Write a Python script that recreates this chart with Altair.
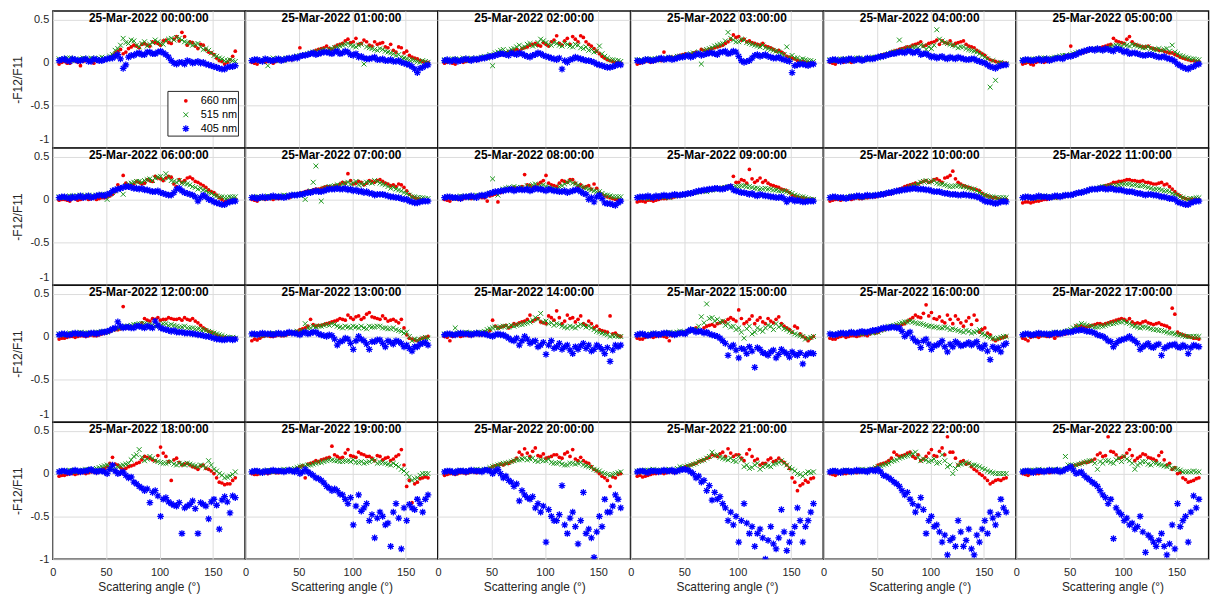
import altair as alt
import pandas as pd

ANGLES = [6, 11, 16, 21, 26, 31, 36, 41, 46, 51, 56, 61, 66, 71, 76, 81, 86, 91, 96, 101,
          106, 111, 116, 121, 126, 131, 136, 141, 146, 151, 156, 161, 166, 171]
ANGLES_B = [8.5, 13.5, 18.5, 23.5, 28.5, 33.5, 38.5, 43.5, 48.5, 53.5, 58.5, 63.5, 68.5,
            73.5, 78.5, 83.5, 88.5, 93.5, 98.5, 103.5, 108.5, 113.5, 118.5, 123.5, 128.5,
            133.5, 138.5, 143.5, 148.5, 153.5, 158.5, 163.5, 168.5]

TITLES = ["25-Mar-2022 %02d:00:00" % h for h in range(24)]
LEGEND_LABELS = ["660 nm", "515 nm", "405 nm"]
X_TICKS = [0, 50, 100, 150]
Y_TICKS = [-1, -0.5, 0, 0.5]

# ---------- samples at ANGLES ----------
R00 = [-0.02,0.01,-0.01,0.02,-0.04,0.02,0.01,0.03,0.02,0.04, 0.08,0.13,0.10,0.16,0.20,0.17,0.22,0.19,0.23,0.20, 0.26,0.22,0.30,0.35,0.20,0.23,0.16,0.20,0.12,0.09, 0.02,-0.02,0.03,0.13]
G00 = [0.04,0.03,0.05,0.02,0.04,0.03,0.05,0.03,0.06,0.04, 0.09,0.16,0.28,0.22,0.25,0.18,0.24,0.21,0.26,0.22, 0.25,0.28,0.29,0.26,0.23,0.20,0.22,0.15,0.14,0.08, 0.05,0.02,0.03,0.01]
B00 = [0.02,0.04,0.01,0.03,0.02,0.04,0.01,0.03,0.02,0.04, 0.05,0.09,-0.07,0.06,0.08,0.11,0.09,0.12,0.10,0.13, 0.09,0.02,-0.02,0.00,0.02,-0.01,0.01,0.00,-0.03,-0.05, -0.07,-0.08,-0.05,-0.04]
R01 = [0.00,-0.02,0.02,0.01,-0.01,0.03,0.02,0.04,0.05,0.17, 0.08,0.10,0.14,0.16,0.19,0.15,0.20,0.22,0.27,0.24, 0.21,0.26,0.20,0.24,0.22,0.18,0.21,0.12,0.17,0.13, 0.06,0.04,0.01,0.00]
G01 = [0.02,0.03,0.01,-0.04,0.05,0.04,0.02,0.05,0.06,0.08, 0.09,0.11,0.12,0.14,0.13,0.16,0.18,0.20,0.22,0.19, 0.20,-0.02,0.17,0.15,0.16,0.13,0.11,0.08,0.06,0.04, 0.03,0.01,0.02,0.00]
B01 = [0.02,0.03,0.01,0.03,0.02,0.04,0.03,0.05,0.06,0.07, 0.08,0.10,0.09,0.11,0.12,0.10,0.13,0.11,0.12,0.08, 0.06,0.05,0.04,0.06,0.03,0.02,0.03,0.01,0.00,-0.02, -0.05,-0.12,-0.06,-0.03]
R02 = [-0.01,0.01,-0.02,0.02,0.01,0.03,0.02,0.04,0.05,0.07, 0.10,0.09,0.12,0.14,0.13,0.17,0.20,0.22,0.19,0.21, 0.24,0.31,0.20,0.28,0.30,0.24,0.29,0.21,0.16,0.10, 0.05,0.02,0.00,-0.01]
G02 = [0.03,0.02,0.04,0.03,0.02,0.05,0.04,0.06,0.05,-0.04, 0.12,0.15,0.13,0.16,0.20,0.18,0.22,0.20,0.27,0.23, 0.20,0.22,0.19,0.21,0.18,0.20,0.16,0.14,0.12,0.19, 0.07,0.03,0.02,0.01]
B02 = [0.02,0.01,0.03,0.02,0.04,0.02,0.03,0.05,0.06,0.07, 0.09,0.10,0.08,0.10,0.11,0.08,0.06,0.09,0.10,0.07, 0.05,0.03,-0.08,0.00,0.04,0.05,0.03,0.02,0.00,-0.03, -0.05,-0.06,-0.04,-0.03]
R03 = [-0.02,0.00,0.02,0.01,0.03,0.12,0.05,0.04,0.08,0.10, 0.09,0.12,0.15,0.13,0.16,0.18,0.20,0.24,0.32,0.30, 0.27,0.25,0.22,0.20,0.19,0.17,0.13,0.12,0.07,0.05, 0.02,0.01,0.00,-0.01]
G03 = [0.03,0.02,0.04,0.03,0.05,0.04,0.06,0.05,0.07,0.08, 0.10,0.09,-0.02,0.15,0.17,0.20,0.22,0.35,0.26,0.24, 0.26,0.22,0.20,0.18,0.17,0.15,0.13,0.10,0.18,0.08, 0.05,0.04,0.02,0.01]
B03 = [0.02,0.01,0.03,0.02,0.04,0.03,0.05,0.04,0.06,0.07, 0.06,0.09,0.08,0.10,0.11,0.09,0.12,0.10,0.13,0.07, 0.00,0.02,0.08,0.07,0.09,0.06,0.05,0.04,0.02,-0.12, -0.03,-0.02,-0.04,-0.02]
R04 = [0.00,-0.02,0.01,0.02,0.00,0.03,0.02,0.04,0.05,0.06, 0.09,0.10,0.13,0.15,0.17,0.18,0.21,0.24,0.20,0.23, 0.26,0.25,0.22,0.20,0.23,0.25,0.19,0.17,0.12,0.08, 0.03,0.01,0.00,-0.01]
G04 = [0.03,0.02,0.04,0.03,0.02,0.05,0.04,0.03,0.06,0.05, 0.08,0.10,0.12,0.26,0.14,0.16,0.18,0.20,0.15,0.16, 0.38,0.25,0.22,0.20,0.17,0.18,0.15,0.13,0.10,0.06, -0.29,-0.21,0.00,-0.02]
B04 = [0.02,0.03,0.01,0.02,0.04,0.03,0.02,0.05,0.04,0.06, 0.07,0.09,0.10,0.12,0.11,0.13,0.12,0.09,0.10,0.06, 0.05,0.07,0.04,0.05,0.06,0.04,0.03,0.04,0.01,-0.01, -0.05,-0.07,-0.04,-0.03]
R05 = [-0.02,0.00,-0.03,0.01,0.00,0.02,0.04,0.05,0.07,0.19, 0.10,0.11,0.13,0.15,0.16,0.18,0.20,0.28,0.24,0.22, 0.30,0.21,0.19,0.18,0.17,0.15,0.14,0.12,0.11,0.08, 0.05,0.03,0.02,0.01]
G05 = [0.03,0.02,0.04,0.03,0.05,0.04,0.06,0.07,0.08,0.09, 0.11,0.12,0.14,0.15,0.16,0.15,0.17,0.19,0.20,0.21, 0.19,0.20,0.18,0.17,0.16,0.15,0.14,0.16,0.20,0.10, 0.07,0.05,0.04,0.03]
B05 = [0.02,0.03,0.02,0.04,0.03,0.02,0.04,0.05,0.06,0.07, 0.09,0.12,0.14,0.15,0.16,0.14,0.15,0.13,0.15,0.12, 0.10,0.11,0.09,0.08,0.09,0.07,0.06,0.05,0.03,-0.02, -0.06,-0.08,-0.05,-0.02]
R06 = [-0.01,0.00,-0.02,0.01,0.00,0.02,0.01,0.00,0.02,0.03, 0.06,0.17,0.28,0.15,0.18,0.20,0.19,0.22,0.27,0.24, 0.25,0.26,0.15,0.20,0.25,0.24,0.20,0.16,0.11,0.08, 0.02,-0.03,-0.01,0.00]
G06 = [0.03,0.02,0.04,0.03,0.05,0.04,0.03,0.05,0.06,0.00, 0.08,0.12,0.06,0.18,0.20,0.21,0.22,0.24,0.25,0.27, 0.30,0.22,0.20,0.19,0.18,0.15,0.12,0.11,0.08,0.05, 0.03,0.02,0.03,0.03]
B06 = [0.02,0.03,0.01,0.02,0.04,0.03,0.02,0.04,0.05,0.06, 0.10,0.12,0.14,0.15,0.13,0.12,0.11,0.10,0.09,0.08, 0.06,0.05,0.12,0.10,0.07,0.05,-0.02,0.05,0.00,-0.03, -0.05,-0.06,-0.03,-0.02]
R07 = [0.00,-0.02,0.01,0.02,0.00,0.01,0.03,0.02,0.05,0.07, 0.09,0.10,0.12,0.13,0.15,0.14,0.16,0.20,0.30,0.18, 0.21,0.17,0.22,0.20,0.23,0.19,0.16,0.15,0.17,0.10, 0.03,0.01,0.00,-0.01]
G07 = [0.02,0.03,0.01,0.04,0.02,0.03,0.05,0.04,0.06,0.05, 0.00,0.10,0.39,-0.02,0.14,0.15,0.17,0.18,0.20,0.19, 0.17,0.18,0.20,0.22,0.19,0.17,0.13,0.12,0.10,0.07, 0.03,0.02,0.02,0.01]
B07 = [0.02,0.01,0.03,0.02,0.04,0.03,0.02,0.04,0.05,0.06, 0.07,0.08,0.10,0.09,0.11,0.12,0.13,0.12,0.11,0.10, 0.09,0.08,0.07,0.05,0.06,0.05,0.03,0.02,0.01,0.00, -0.03,-0.04,-0.02,-0.02]
R08 = [0.00,-0.02,0.01,0.00,0.02,0.01,0.03,0.02,-0.02,0.05, -0.03,0.10,0.12,0.14,0.13,0.29,0.16,0.15,0.20,0.28, 0.17,0.15,0.22,0.20,0.23,0.15,0.14,0.16,0.18,0.08, 0.04,0.02,0.00,-0.01]
G08 = [0.02,0.03,0.01,0.04,0.03,0.02,0.05,0.04,0.06,0.24, 0.05,0.12,0.14,0.15,0.13,0.12,0.15,0.18,0.16,0.15, 0.13,0.12,0.16,0.20,0.19,0.17,0.14,0.12,0.10,0.09, 0.05,0.04,0.03,0.03]
B08 = [0.02,0.03,0.02,0.01,0.03,0.04,0.02,0.05,0.06,0.08, 0.09,0.10,0.11,0.10,0.12,0.11,0.10,0.13,0.12,0.10, 0.11,0.10,0.09,0.08,0.10,0.11,0.07,0.00,-0.03,0.05, -0.04,-0.05,-0.07,-0.02]
R09 = [-0.03,-0.02,-0.01,-0.02,0.00,0.01,0.02,0.03,0.04,0.05, 0.07,0.08,0.09,0.10,0.11,0.12,0.14,0.15,0.27,0.20, 0.22,0.35,0.20,0.25,0.22,0.17,0.15,0.12,0.10,0.05, 0.03,0.02,0.00,0.00]
G09 = [0.02,0.03,0.01,0.02,0.04,0.03,0.02,0.04,0.05,0.06, 0.07,0.08,0.10,0.09,0.11,0.12,0.13,0.15,0.14,0.15, 0.16,0.15,0.13,0.12,0.13,0.12,0.11,0.10,0.09,0.07, 0.04,0.03,0.01,0.00]
B09 = [0.02,0.03,0.04,0.02,0.03,0.05,0.04,0.06,0.05,0.06, 0.07,0.09,0.10,0.11,0.12,0.13,0.12,0.14,0.11,0.09, 0.08,0.06,0.05,0.06,0.04,0.03,0.02,0.03,-0.03,0.00, -0.01,-0.03,-0.02,-0.02]
R10 = [-0.02,0.00,-0.01,0.01,0.00,0.02,0.01,0.02,0.03,0.04, 0.05,0.06,0.09,0.12,0.15,0.17,0.19,0.20,0.22,0.21, 0.24,0.20,0.26,0.33,0.20,0.16,0.14,0.12,0.10,0.05, 0.03,0.02,0.00,0.00]
G10 = [0.02,0.03,0.01,0.02,0.04,0.03,0.02,0.04,0.05,0.05, 0.07,0.08,0.09,0.10,0.12,0.15,0.17,0.20,0.22,0.21, 0.19,0.18,0.16,0.15,0.16,0.15,0.13,0.12,0.08,0.05, 0.03,0.02,0.02,0.02]
B10 = [0.02,0.03,0.02,0.01,0.03,0.04,0.03,0.05,0.04,0.05, 0.06,0.08,0.09,0.10,0.11,0.12,0.13,0.12,0.11,0.10, 0.09,0.08,0.07,0.06,0.05,0.06,0.05,0.04,0.02,-0.02, -0.03,-0.05,-0.03,-0.03]
R11 = [-0.04,-0.03,-0.03,-0.02,0.00,0.01,0.02,0.03,0.04,0.05, 0.07,0.08,0.10,0.12,0.13,0.15,0.17,0.20,0.21,0.22, 0.23,0.22,0.21,0.20,0.19,0.18,0.20,0.18,0.12,0.06, 0.02,0.00,0.00,0.00]
G11 = [0.02,0.03,0.01,0.02,0.04,0.03,0.02,0.04,0.05,0.05, 0.07,0.08,0.10,0.12,0.13,0.15,0.15,0.16,0.17,0.18, 0.18,0.17,0.16,0.15,0.13,0.12,0.11,0.10,0.07,0.05, 0.02,0.00,0.01,0.02]
B11 = [0.02,0.03,0.02,0.04,0.03,0.02,0.04,0.03,0.05,0.05, 0.07,0.08,0.10,0.12,0.12,0.13,0.12,0.12,0.11,0.10, 0.09,0.08,0.07,0.05,0.06,0.05,0.03,0.02,0.01,-0.03, -0.05,-0.06,-0.03,-0.02]
R12 = [-0.03,-0.02,0.00,-0.01,0.01,0.00,0.02,0.01,0.03,0.05, 0.08,0.08,0.35,0.10,0.11,0.12,0.21,0.18,0.20,0.19, 0.20,0.21,0.20,0.19,0.20,0.21,0.16,0.10,0.06,0.04, 0.00,-0.01,-0.02,-0.02]
G12 = [0.03,0.02,0.04,0.03,0.05,0.04,0.03,0.05,0.06,0.05, 0.08,0.10,0.11,0.12,0.14,0.15,0.15,0.14,0.12,0.13, 0.15,0.14,0.12,0.11,0.10,0.10,0.09,0.08,0.06,0.04, 0.02,0.00,-0.01,-0.02]
B12 = [0.02,0.03,0.02,0.04,0.03,0.02,0.04,0.03,0.05,0.06, 0.09,0.17,0.10,0.11,0.10,0.12,0.10,0.11,0.18,0.10, 0.08,0.06,0.05,0.05,0.04,0.03,0.02,0.01,0.00,-0.02, -0.03,-0.04,-0.03,-0.03]
R13 = [-0.05,-0.04,0.00,0.01,0.00,0.02,0.01,0.03,0.05,0.08, 0.10,0.20,0.12,0.13,0.15,0.17,0.19,0.20,0.25,0.20, 0.24,0.22,0.28,0.22,0.20,0.21,0.19,0.18,0.20,0.02, -0.03,-0.05,-0.02,0.00]
G13 = [0.02,0.03,0.01,0.02,0.04,0.03,0.02,0.04,0.05,0.05, 0.15,0.10,0.11,0.12,0.14,0.15,0.12,0.10,0.11,0.12, 0.10,0.10,0.12,0.11,0.12,0.10,0.09,0.08,0.06,0.05, -0.05,-0.04,-0.02,-0.02]
B13 = [0.03,0.02,0.04,0.03,0.02,0.04,0.03,0.05,0.04,0.02, 0.05,0.04,0.05,0.02,0.00,0.01,-0.10,-0.05,-0.03,-0.15, 0.00,-0.05,-0.15,-0.06,-0.04,-0.12,-0.07,-0.05,-0.08,-0.10, -0.17,-0.12,-0.08,-0.10]
R14 = [0.00,-0.05,0.01,0.00,0.02,0.01,0.03,0.02,0.04,0.19, 0.10,0.12,0.10,0.15,0.16,0.18,0.25,0.20,0.17,0.15, 0.22,0.30,0.15,0.25,0.22,0.20,0.15,0.18,0.10,0.08, 0.06,0.24,0.04,0.00]
G14 = [0.03,0.02,0.10,0.03,0.05,0.04,0.03,0.05,0.08,0.10, 0.10,0.12,0.11,0.12,0.14,0.15,0.17,0.22,0.27,0.18, 0.16,0.15,0.12,0.10,0.11,0.12,0.13,0.12,0.08,0.05, 0.03,0.00,0.01,0.00]
B14 = [0.02,0.03,0.02,0.04,0.03,0.02,0.04,0.03,0.02,0.00, 0.03,0.02,-0.02,-0.05,-0.10,0.00,-0.08,-0.05,-0.10,-0.21, -0.05,-0.12,-0.15,-0.10,-0.20,-0.15,-0.08,-0.10,-0.15,-0.12, -0.20,-0.29,-0.10,-0.10]
R15 = [-0.02,-0.03,0.00,-0.01,0.01,0.00,-0.05,0.02,0.03,0.05, 0.08,0.10,0.05,0.12,0.14,0.15,0.18,0.20,0.20,0.31, 0.15,0.20,0.15,0.22,0.15,0.18,0.20,0.15,0.10,0.05, 0.10,0.00,-0.05,0.00]
G15 = [0.02,0.03,0.01,0.04,0.02,0.03,0.05,0.04,0.06,0.05, 0.07,0.08,0.23,0.38,0.22,0.20,0.18,0.15,0.12,0.10, -0.02,0.12,0.05,0.08,0.10,0.12,0.15,0.13,0.08,0.05, 0.02,0.00,-0.02,0.00]
B15 = [0.02,0.03,0.01,0.03,0.02,0.04,0.03,0.02,0.04,0.03, 0.08,0.05,0.06,0.05,0.02,0.00,-0.05,-0.22,-0.10,-0.25, -0.15,-0.12,-0.36,-0.15,-0.20,-0.18,-0.25,-0.15,-0.20,-0.18, -0.22,-0.32,-0.20,-0.20]
R16 = [-0.02,-0.03,0.00,-0.01,0.01,0.00,0.02,0.01,0.05,0.05, 0.08,0.10,0.11,0.12,0.15,0.20,0.25,0.22,0.37,0.28, 0.20,0.18,0.25,0.15,0.20,0.12,0.22,0.25,0.05,0.10, 0.02,-0.05,-0.02,0.00]
G16 = [0.03,0.02,0.04,0.03,0.05,0.04,0.03,0.05,0.04,0.05, 0.08,0.12,0.13,0.15,0.17,0.18,0.16,0.15,0.13,0.12, 0.11,0.10,0.10,0.09,0.07,0.05,0.06,0.05,0.08,0.02, -0.01,-0.03,-0.01,0.00]
B16 = [0.03,0.02,0.04,0.03,0.05,0.04,0.06,0.05,0.07,0.08, 0.10,0.10,0.11,0.10,0.00,0.05,-0.05,-0.13,-0.03,-0.15, -0.10,-0.05,-0.18,-0.12,-0.08,-0.10,-0.07,-0.08,-0.12,-0.10, -0.27,-0.15,-0.18,-0.08]
R17 = [-0.02,-0.05,0.00,-0.01,0.01,0.00,-0.02,0.02,0.03,0.05, 0.12,0.12,0.11,0.13,0.15,0.14,0.16,0.18,0.20,0.20, 0.21,0.15,0.15,0.18,0.15,0.15,0.14,0.12,0.33,0.05, 0.02,0.00,-0.02,-0.03]
G17 = [0.02,0.03,0.01,0.04,0.02,0.03,0.05,0.04,0.06,0.08, 0.12,0.15,0.13,0.12,0.11,0.12,0.14,0.15,0.17,0.18, 0.15,0.12,0.10,0.11,0.09,0.08,0.07,0.05,0.04,0.02, 0.01,0.00,0.00,0.00]
B17 = [0.02,0.03,0.02,0.04,0.03,0.02,0.04,0.03,0.05,0.05, 0.07,0.08,0.06,0.05,0.02,0.00,-0.05,-0.12,-0.05,-0.03, 0.00,-0.05,-0.15,-0.10,-0.12,-0.10,-0.22,-0.12,-0.10,-0.12, -0.10,-0.20,-0.10,-0.12]
R18 = [-0.03,-0.02,0.00,-0.01,0.01,0.00,0.02,0.01,0.05,0.08, 0.19,0.10,0.05,0.08,0.10,0.13,0.20,0.18,0.15,0.31, 0.20,-0.08,0.18,0.10,0.12,0.08,0.05,0.10,0.05,0.00, -0.10,-0.13,-0.12,-0.05]
G18 = [0.02,0.03,0.04,0.02,0.03,0.05,0.04,0.06,0.08,0.10, 0.05,0.08,0.10,0.12,0.20,0.28,0.15,0.20,0.15,0.13, 0.12,0.14,0.10,0.11,0.12,0.10,0.08,0.09,0.15,0.05, 0.00,-0.05,-0.03,0.02]
B18 = [0.02,0.03,0.01,0.04,0.02,0.03,0.05,0.02,0.03,0.00, 0.10,0.00,0.02,-0.05,-0.10,-0.15,-0.20,-0.34,-0.20,-0.50, -0.28,-0.35,-0.38,-0.70,-0.38,-0.32,-0.70,-0.36,-0.53,-0.30, -0.65,-0.27,-0.46,-0.28]
R19 = [0.00,-0.01,0.01,0.00,0.02,0.01,0.02,0.05,0.04,0.08, -0.05,0.12,0.15,0.16,0.18,0.32,0.20,0.19,0.28,0.20, 0.25,0.22,0.20,0.15,0.20,0.18,0.15,0.20,0.28,-0.15, -0.34,-0.10,-0.05,-0.05]
G19 = [0.02,0.03,0.01,0.04,0.02,0.03,0.05,0.04,0.06,0.08, 0.09,0.10,0.12,0.13,0.15,0.16,0.15,0.14,0.15,0.16, 0.13,0.12,0.14,0.15,0.13,0.12,0.10,0.10,0.05,0.00, -0.08,-0.05,0.00,0.00]
B19 = [0.02,0.03,0.01,0.02,0.04,0.03,0.02,0.04,0.02,0.00, 0.05,0.00,-0.05,-0.08,-0.15,-0.20,-0.20,-0.25,-0.35,-0.60, -0.25,-0.40,-0.55,-0.75,-0.45,-0.60,-0.85,-0.35,-0.88,-0.55, -0.40,-0.30,-0.45,-0.25]
R20 = [-0.02,0.00,-0.01,0.01,0.00,0.02,0.01,0.03,0.05,0.08, 0.10,0.10,0.12,0.15,0.25,0.29,0.20,0.30,0.20,0.18, 0.20,0.22,0.18,0.25,0.28,0.15,0.15,0.12,0.05,0.00, -0.05,-0.15,-0.05,0.00]
G20 = [0.02,0.03,0.01,0.04,0.02,0.03,0.05,0.04,0.05,0.08, 0.10,0.12,0.13,0.15,0.16,0.18,0.17,0.15,0.16,0.15, 0.13,0.12,0.11,0.10,0.12,0.12,0.10,0.08,0.05,0.03, 0.00,-0.02,0.00,0.02]
B20 = [0.02,0.03,0.01,0.03,0.02,0.04,0.03,0.02,0.04,0.00, 0.05,-0.05,-0.08,-0.15,-0.32,-0.25,-0.30,-0.40,-0.45,-0.80, -0.50,-0.55,-0.14,-0.70,-0.45,-0.82,-0.22,-0.65,-0.98,-0.50, -0.30,-0.45,-0.25,-0.40]
R21 = [-0.03,-0.04,-0.02,0.00,0.01,0.00,0.02,0.01,0.05,0.08, 0.10,0.12,0.15,0.18,0.22,0.20,0.25,0.29,0.20,0.22, 0.15,0.28,0.15,0.10,0.12,0.18,0.15,0.15,0.10,-0.05, -0.20,-0.12,-0.10,-0.05]
G21 = [0.03,0.02,0.04,0.05,0.03,0.04,0.05,0.03,0.08,0.08, 0.10,0.12,0.15,0.18,0.25,0.22,0.18,0.16,0.15,0.20, 0.08,0.06,0.10,0.05,0.10,0.08,0.12,0.15,0.10,0.05, 0.00,-0.03,0.02,0.02]
B21 = [0.02,0.03,0.01,0.03,0.02,0.04,0.03,0.02,0.04,0.05, 0.02,-0.05,-0.10,-0.20,-0.31,-0.30,-0.35,-0.55,-0.60,-0.80, -0.35,-0.70,-0.85,-0.65,-1.00,-0.62,-0.88,-0.42,-0.90,-0.70, -0.40,-0.80,-0.55,-0.35]
R22 = [0.00,-0.02,0.01,0.00,0.02,0.01,0.03,0.02,0.05,0.10, 0.12,0.15,0.25,0.20,0.22,0.25,0.18,0.15,0.20,0.28, 0.20,0.30,0.43,0.25,0.10,0.15,0.12,0.05,0.00,-0.05, -0.12,-0.08,-0.08,-0.05]
G22 = [0.02,0.03,0.01,0.04,0.02,0.03,0.05,0.04,0.05,0.08, 0.10,0.12,0.15,0.18,0.20,0.22,0.25,0.15,0.16,0.15, 0.12,0.22,0.08,0.00,0.10,0.12,0.12,0.10,0.08,0.05, 0.02,0.00,0.00,0.00]
B22 = [0.02,0.03,0.01,0.03,0.02,0.04,0.03,0.02,0.04,0.05, -0.02,-0.05,-0.10,-0.15,-0.25,-0.30,-0.45,-0.28,-0.70,-0.50, -0.60,-0.80,-0.95,-0.75,-0.55,-0.85,-0.65,-0.95,-0.80,-0.55, -0.45,-0.60,-0.30,-0.45]
R23 = [0.00,-0.02,0.01,0.00,0.02,0.01,0.03,0.02,0.05,0.08, 0.10,0.12,0.13,0.15,0.22,0.20,0.43,0.25,0.18,0.20, 0.28,0.15,0.20,0.22,0.18,0.15,0.25,0.10,0.05,0.00, -0.05,-0.10,-0.08,-0.05]
G23 = [0.03,0.02,0.04,0.05,0.03,0.04,0.05,0.03,0.20,0.10, 0.10,0.12,0.14,0.15,0.05,0.12,0.15,0.12,0.18,0.20, 0.15,0.05,0.12,0.14,0.10,0.12,0.10,0.08,0.06,0.05, 0.02,0.02,0.03,0.02]
B23 = [0.02,0.03,0.01,0.03,0.02,0.04,0.03,0.02,0.05,0.08, 0.00,0.02,-0.05,-0.10,-0.15,-0.25,-0.35,-0.76,-0.45,-0.55, -0.60,-0.65,-0.50,-0.92,-0.75,-0.85,-0.70,-0.95,-0.60,-0.35, -0.55,-0.80,-0.26,-0.30]

# ---------- samples at ANGLES_B ----------
R00b = [0.00,-0.01,0.02,0.00,0.01,0.03,-0.01,0.02,0.03,0.05, 0.11,0.15,0.12,0.18,0.19,0.21,0.20,0.24,0.22,0.25, 0.23,0.27,0.25,0.30,0.24,0.19,0.21,0.15,0.11,0.05, 0.01,0.00,0.07]
G00b = [0.03,0.05,0.04,0.03,0.05,0.04,0.03,0.05,0.04,0.07, 0.14,0.20,0.23,0.26,0.20,0.22,0.19,0.23,0.24,0.21, 0.27,0.26,0.28,0.24,0.22,0.21,0.18,0.16,0.11,0.07, 0.04,0.02,0.02]
B00b = [0.03,0.02,0.04,0.02,0.03,0.01,0.04,0.02,0.03,0.05, 0.07,0.04,-0.03,0.08,0.10,0.09,0.12,0.10,0.12,0.11, 0.06,-0.01,0.00,-0.02,0.01,0.00,-0.01,-0.02,-0.04,-0.06, -0.08,-0.06,-0.05]
R01b = [-0.01,0.01,0.00,0.02,0.01,0.02,0.03,0.03,0.06,0.07, 0.09,0.12,0.15,0.17,0.16,0.18,0.21,0.25,0.23,0.28, 0.22,0.24,0.19,0.21,0.23,0.17,0.14,0.18,0.11,0.08, 0.05,0.02,0.00]
G01b = [0.03,0.02,0.04,0.03,0.02,0.04,0.05,0.04,0.07,0.08, 0.10,0.12,0.13,0.15,0.15,0.17,0.19,0.21,0.20,0.18, 0.21,0.18,0.16,0.14,0.15,0.12,0.10,0.09,0.05,0.03, 0.02,0.00,0.01]
B01b = [0.03,0.02,0.04,0.02,0.03,0.02,0.04,0.04,0.05,0.08, 0.09,0.11,0.10,0.12,0.11,0.12,0.10,0.13,0.09,0.10, 0.07,0.04,0.05,0.03,0.04,0.02,0.01,0.02,-0.01,-0.03, -0.08,-0.07,-0.04]
R02b = [0.00,-0.01,0.01,0.00,0.02,0.03,0.03,0.05,0.06,0.08, 0.09,0.11,0.13,0.15,0.16,0.18,0.21,0.20,0.23,0.19, 0.26,0.22,0.25,0.21,0.27,0.31,0.24,0.19,0.13,0.07, 0.03,0.01,0.00]
G02b = [0.02,0.04,0.03,0.05,0.04,0.03,0.05,0.07,0.09,0.11, 0.14,0.12,0.15,0.18,0.17,0.21,0.19,0.23,0.25,0.21, 0.23,0.20,0.22,0.19,0.21,0.17,0.18,0.15,0.13,0.10, 0.05,0.03,0.02]
B02b = [0.03,0.02,0.01,0.03,0.03,0.04,0.04,0.05,0.07,0.08, 0.10,0.09,0.11,0.09,0.10,0.07,0.08,0.11,0.08,0.06, 0.04,0.05,0.02,0.03,0.06,0.04,0.02,0.01,-0.02,-0.04, -0.06,-0.05,-0.02]
R03b = [-0.01,0.01,0.00,0.02,0.02,0.04,0.06,0.07,0.09,0.08, 0.11,0.10,0.14,0.15,0.17,0.19,0.22,0.27,0.29,0.26, 0.24,0.23,0.21,0.22,0.18,0.15,0.14,0.10,0.06,0.04, 0.01,0.00,-0.01]
G03b = [0.02,0.03,0.04,0.04,0.03,0.05,0.05,0.07,0.06,0.09, 0.11,0.12,0.14,0.16,0.19,0.21,0.25,0.28,0.24,0.27, 0.23,0.21,0.19,0.20,0.16,0.14,0.12,0.09,0.06,0.05, 0.03,0.03,0.02]
B03b = [0.01,0.03,0.02,0.03,0.05,0.04,0.03,0.05,0.06,0.08, 0.07,0.10,0.09,0.11,0.10,0.12,0.13,0.11,0.12,0.02, 0.01,0.05,0.09,0.08,0.07,0.05,0.06,0.03,0.01,-0.04, -0.02,-0.03,-0.02]
R04b = [-0.01,0.01,0.00,0.01,0.02,0.03,0.03,0.05,0.06,0.08, 0.10,0.12,0.14,0.16,0.18,0.20,0.22,0.19,0.22,0.24, 0.21,0.23,0.25,0.22,0.24,0.21,0.18,0.14,0.10,0.05, 0.02,0.00,-0.01]
G04b = [0.02,0.03,0.04,0.03,0.04,0.05,0.04,0.05,0.06,0.07, 0.09,0.11,0.13,0.15,0.17,0.18,0.17,0.19,0.18,0.20, 0.27,0.23,0.21,0.19,0.18,0.16,0.14,0.12,0.08,0.04, 0.02,-0.01,-0.02]
B04b = [0.03,0.02,0.03,0.04,0.02,0.04,0.03,0.04,0.05,0.07, 0.08,0.10,0.11,0.12,0.13,0.11,0.13,0.10,0.08,0.07, 0.06,0.05,0.06,0.04,0.05,0.03,0.04,0.02,0.00,-0.03, -0.06,-0.05,-0.03]
R05b = [-0.01,-0.02,0.00,0.02,0.01,0.03,0.05,0.06,0.08,0.09, 0.11,0.12,0.14,0.16,0.17,0.19,0.21,0.25,0.23,0.27, 0.24,0.20,0.18,0.19,0.16,0.14,0.13,0.11,0.09,0.06, 0.04,0.02,0.01]
G05b = [0.02,0.03,0.04,0.05,0.04,0.05,0.06,0.08,0.07,0.10, 0.12,0.13,0.15,0.16,0.14,0.16,0.18,0.20,0.19,0.20, 0.21,0.19,0.17,0.18,0.15,0.16,0.15,0.13,0.12,0.08, 0.06,0.04,0.03]
B05b = [0.03,0.02,0.03,0.02,0.04,0.03,0.05,0.04,0.07,0.08, 0.11,0.13,0.15,0.14,0.15,0.16,0.14,0.16,0.14,0.13, 0.11,0.10,0.08,0.09,0.08,0.06,0.07,0.04,0.01,-0.04, -0.07,-0.06,-0.03]
R06b = [0.00,-0.01,0.01,-0.01,0.01,0.00,0.02,0.01,0.02,0.04, 0.09,0.14,0.19,0.17,0.21,0.18,0.23,0.21,0.25,0.22, 0.27,0.18,0.23,0.22,0.26,0.21,0.18,0.14,0.09,0.05, 0.00,-0.02,0.00]
G06b = [0.02,0.03,0.04,0.04,0.03,0.05,0.04,0.05,0.04,0.06, 0.10,0.13,0.16,0.19,0.21,0.20,0.23,0.22,0.26,0.24, 0.25,0.21,0.22,0.19,0.17,0.14,0.13,0.10,0.07,0.04, 0.03,0.02,0.03]
B06b = [0.03,0.02,0.03,0.03,0.02,0.04,0.03,0.05,0.04,0.07, 0.11,0.13,0.15,0.14,0.13,0.13,0.11,0.09,0.10,0.07, 0.05,0.08,0.13,0.08,0.06,0.03,0.02,0.03,-0.01,-0.04, -0.06,-0.04,-0.02]
R07b = [-0.01,0.01,0.00,0.01,0.02,0.02,0.03,0.04,0.06,0.08, 0.10,0.11,0.12,0.14,0.15,0.16,0.18,0.19,0.22,0.19, 0.20,0.19,0.21,0.22,0.21,0.18,0.17,0.18,0.14,0.06, 0.02,0.00,-0.01]
G07b = [0.03,0.02,0.03,0.03,0.04,0.04,0.04,0.05,0.05,0.07, 0.08,0.20,0.11,0.13,0.15,0.16,0.16,0.19,0.18,0.21, 0.18,0.20,0.19,0.21,0.18,0.15,0.14,0.11,0.08,0.05, 0.03,0.02,0.01]
B07b = [0.02,0.02,0.02,0.03,0.03,0.03,0.03,0.05,0.05,0.06, 0.08,0.09,0.09,0.10,0.12,0.12,0.12,0.13,0.12,0.11, 0.10,0.09,0.07,0.06,0.06,0.04,0.03,0.02,0.00,-0.02, -0.04,-0.03,-0.02]
R08b = [-0.01,0.01,0.00,0.01,0.02,0.02,0.03,0.02,0.04,0.06, 0.08,0.11,0.13,0.13,0.15,0.17,0.14,0.18,0.22,0.19, 0.16,0.19,0.21,0.23,0.19,0.17,0.15,0.12,0.13,0.06, 0.03,0.01,0.00]
G08b = [0.03,0.02,0.03,0.03,0.04,0.04,0.04,0.05,0.07,0.08, 0.10,0.13,0.13,0.14,0.14,0.16,0.17,0.15,0.17,0.14, 0.12,0.15,0.18,0.21,0.18,0.15,0.13,0.11,0.09,0.07, 0.05,0.03,0.03]
B08b = [0.03,0.02,0.02,0.03,0.03,0.03,0.04,0.04,0.07,0.09, 0.10,0.11,0.12,0.11,0.11,0.12,0.11,0.12,0.11,0.12, 0.10,0.09,0.10,0.09,0.11,0.09,0.06,0.02,0.03,0.01, -0.05,-0.06,-0.04]
R09b = [-0.02,-0.03,-0.01,-0.01,0.01,0.01,0.02,0.04,0.05,0.06, 0.07,0.09,0.10,0.11,0.12,0.13,0.14,0.16,0.20,0.23, 0.19,0.24,0.22,0.20,0.19,0.16,0.14,0.11,0.08,0.04, 0.02,0.01,0.00]
G09b = [0.02,0.02,0.02,0.03,0.03,0.03,0.04,0.05,0.05,0.06, 0.08,0.09,0.10,0.11,0.12,0.13,0.14,0.14,0.15,0.16, 0.15,0.14,0.13,0.12,0.12,0.11,0.10,0.10,0.08,0.05, 0.03,0.02,0.00]
B09b = [0.03,0.03,0.03,0.04,0.04,0.04,0.05,0.05,0.06,0.07, 0.08,0.10,0.11,0.12,0.13,0.12,0.13,0.15,0.10,0.08, 0.07,0.07,0.04,0.05,0.04,0.03,0.02,0.01,0.00,-0.02, -0.02,-0.03,-0.02]
R10b = [-0.01,0.00,0.00,0.01,0.01,0.01,0.02,0.03,0.03,0.05, 0.06,0.07,0.10,0.13,0.16,0.18,0.18,0.21,0.20,0.23, 0.22,0.25,0.28,0.24,0.18,0.15,0.13,0.11,0.07,0.04, 0.02,0.01,0.00]
G10b = [0.02,0.02,0.02,0.03,0.03,0.03,0.03,0.04,0.05,0.06, 0.07,0.08,0.10,0.11,0.13,0.16,0.18,0.21,0.20,0.22, 0.18,0.17,0.15,0.16,0.15,0.14,0.12,0.10,0.06,0.04, 0.03,0.02,0.02]
B10b = [0.03,0.02,0.02,0.02,0.03,0.04,0.04,0.04,0.05,0.06, 0.07,0.08,0.10,0.11,0.12,0.13,0.12,0.12,0.11,0.09, 0.09,0.07,0.06,0.06,0.05,0.05,0.04,0.03,0.00,-0.03, -0.04,-0.04,-0.02]
R11b = [-0.03,-0.04,-0.02,-0.01,0.00,0.02,0.02,0.03,0.05,0.06, 0.08,0.09,0.11,0.12,0.14,0.16,0.18,0.20,0.21,0.23, 0.22,0.21,0.22,0.20,0.18,0.19,0.17,0.15,0.09,0.04, 0.01,0.00,0.00]
G11b = [0.03,0.02,0.02,0.03,0.03,0.03,0.03,0.04,0.05,0.06, 0.08,0.09,0.11,0.12,0.14,0.15,0.16,0.16,0.18,0.18, 0.17,0.16,0.16,0.14,0.12,0.12,0.10,0.09,0.06,0.03, 0.01,0.01,0.02]
B11b = [0.03,0.02,0.03,0.03,0.03,0.03,0.04,0.04,0.05,0.06, 0.08,0.09,0.11,0.12,0.13,0.12,0.13,0.11,0.11,0.09, 0.09,0.07,0.06,0.06,0.05,0.04,0.03,0.01,0.00,-0.04, -0.06,-0.04,-0.02]
R12b = [-0.02,-0.01,0.00,0.00,0.01,0.01,0.01,0.02,0.04,0.06, 0.08,0.09,0.10,0.11,0.12,0.16,0.19,0.21,0.22,0.20, 0.22,0.20,0.21,0.22,0.19,0.18,0.13,0.08,0.05,0.02, -0.01,-0.02,-0.02]
G12b = [0.02,0.03,0.03,0.04,0.04,0.04,0.04,0.05,0.05,0.07, 0.09,0.10,0.12,0.13,0.14,0.15,0.14,0.13,0.14,0.15, 0.13,0.13,0.11,0.12,0.10,0.09,0.08,0.07,0.05,0.03, 0.01,-0.01,-0.01]
B12b = [0.03,0.02,0.03,0.03,0.03,0.03,0.04,0.04,0.05,0.07, 0.10,0.12,0.11,0.10,0.12,0.11,0.12,0.10,0.13,0.09, 0.07,0.07,0.05,0.04,0.04,0.03,0.02,0.00,-0.01,-0.03, -0.04,-0.03,-0.04]
R13b = [-0.03,-0.02,0.01,0.00,0.01,0.01,0.02,0.04,0.06,0.09, 0.12,0.14,0.13,0.14,0.16,0.18,0.21,0.19,0.22,0.23, 0.20,0.26,0.23,0.21,0.24,0.18,0.20,0.16,0.10,-0.02, -0.04,-0.03,-0.01]
G13b = [0.03,0.02,0.02,0.03,0.03,0.03,0.04,0.04,0.06,0.07, 0.10,0.12,0.12,0.13,0.13,0.14,0.11,0.12,0.10,0.11, 0.12,0.09,0.11,0.12,0.10,0.09,0.10,0.07,0.04,0.00, -0.03,-0.04,-0.01]
B13b = [0.03,0.03,0.03,0.03,0.03,0.03,0.04,0.04,0.03,0.04, 0.03,0.05,0.03,0.01,0.02,-0.03,-0.06,-0.02,-0.08,-0.05, -0.03,-0.09,-0.06,-0.04,-0.08,-0.05,-0.09,-0.06,-0.12,-0.14, -0.12,-0.09,-0.07]
R14b = [-0.01,0.00,0.02,0.01,0.01,0.02,0.02,0.05,0.07,0.12, 0.11,0.13,0.12,0.14,0.17,0.20,0.18,0.21,0.16,0.24, 0.19,0.22,0.18,0.21,0.17,0.24,0.13,0.15,0.12,0.07, 0.05,0.03,0.01]
G14b = [0.03,0.03,0.04,0.04,0.04,0.04,0.05,0.06,0.09,0.11, 0.11,0.12,0.13,0.13,0.14,0.16,0.19,0.20,0.17,0.15, 0.13,0.14,0.11,0.12,0.10,0.14,0.11,0.10,0.06,0.04, 0.02,0.01,0.00]
B14b = [0.03,0.02,0.03,0.03,0.03,0.03,0.03,0.03,0.01,0.02, 0.02,0.00,-0.04,-0.02,-0.05,-0.03,-0.06,-0.12,-0.07,-0.10, -0.14,-0.08,-0.12,-0.16,-0.12,-0.11,-0.14,-0.17,-0.10,-0.15, -0.13,-0.16,-0.12]
R15b = [-0.03,-0.01,0.00,0.00,0.01,-0.01,0.01,0.03,0.04,0.07, 0.09,0.07,0.10,0.13,0.12,0.16,0.17,0.22,0.18,0.21, 0.17,0.24,0.19,0.17,0.21,0.16,0.23,0.12,0.08,0.12, 0.03,-0.02,-0.02]
G15b = [0.03,0.02,0.03,0.03,0.03,0.04,0.04,0.05,0.05,0.06, 0.08,0.12,0.16,0.21,0.18,0.17,0.13,0.11,0.08,0.05, 0.09,0.03,0.10,0.06,0.13,0.08,0.11,0.09,0.06,0.03, 0.01,-0.03,-0.01]
B15b = [0.03,0.02,0.02,0.03,0.03,0.04,0.03,0.03,0.04,0.06, 0.07,0.06,0.04,0.03,0.01,-0.02,-0.08,-0.12,-0.16,-0.14, -0.20,-0.17,-0.13,-0.19,-0.22,-0.16,-0.21,-0.18,-0.24,-0.21, -0.19,-0.22,-0.19]
R16b = [-0.03,-0.01,0.01,0.00,0.01,0.01,0.02,0.03,0.04,0.07, 0.09,0.11,0.13,0.14,0.18,0.22,0.23,0.27,0.24,0.21, 0.23,0.16,0.20,0.24,0.16,0.18,0.14,0.19,0.08,0.04, -0.03,-0.03,-0.01]
G16b = [0.02,0.03,0.03,0.04,0.04,0.04,0.04,0.05,0.05,0.07, 0.10,0.12,0.14,0.16,0.17,0.17,0.15,0.14,0.12,0.11, 0.10,0.11,0.08,0.08,0.06,0.07,0.04,0.06,0.03,0.00, -0.02,-0.02,0.00]
B16b = [0.02,0.03,0.04,0.04,0.04,0.05,0.05,0.06,0.07,0.09, 0.10,0.11,0.10,0.06,0.03,-0.02,-0.07,-0.05,-0.09,-0.11, -0.08,-0.12,-0.09,-0.06,-0.11,-0.09,-0.10,-0.06,-0.14,-0.17, -0.12,-0.13,-0.10]
R17b = [-0.03,-0.01,0.00,0.01,0.00,0.01,0.01,0.03,0.04,0.08, 0.10,0.11,0.12,0.14,0.15,0.15,0.17,0.19,0.21,0.18, 0.17,0.16,0.17,0.16,0.14,0.16,0.13,0.10,0.26,0.03, 0.01,-0.01,-0.02]
G17b = [0.03,0.02,0.03,0.03,0.03,0.04,0.04,0.05,0.07,0.10, 0.13,0.14,0.12,0.11,0.12,0.13,0.15,0.16,0.17,0.16, 0.13,0.11,0.11,0.10,0.08,0.07,0.06,0.04,0.03,0.02, 0.00,0.00,0.00]
B17b = [0.03,0.02,0.03,0.03,0.03,0.03,0.04,0.04,0.05,0.06, 0.07,0.07,0.06,0.04,0.01,-0.02,-0.06,-0.08,-0.04,-0.02, -0.03,-0.08,-0.12,-0.08,-0.13,-0.09,-0.14,-0.10,-0.09,-0.13, -0.12,-0.13,-0.11]
R18b = [-0.02,-0.01,0.00,0.00,0.01,0.01,0.02,0.04,0.06,0.12, 0.11,0.07,0.06,0.09,0.12,0.16,0.19,0.16,0.21,0.24, 0.14,0.16,0.13,0.11,0.10,0.07,0.09,0.06,0.03,-0.05, -0.11,-0.12,-0.08]
G18b = [0.03,0.03,0.03,0.03,0.04,0.04,0.05,0.07,0.09,0.08, 0.06,0.09,0.11,0.16,0.22,0.19,0.17,0.18,0.14,0.12, 0.13,0.11,0.12,0.10,0.11,0.09,0.10,0.07,0.10,0.03, -0.02,-0.04,-0.01]
B18b = [0.03,0.02,0.03,0.03,0.03,0.04,0.03,0.03,0.02,0.05, 0.03,0.01,-0.02,-0.04,-0.12,-0.17,-0.18,-0.22,-0.26,-0.30, -0.33,-0.37,-0.34,-0.40,-0.36,-0.41,-0.34,-0.38,-0.33,-0.37, -0.31,-0.33,-0.26]
R19b = [-0.01,0.00,0.01,0.01,0.01,0.02,0.03,0.04,0.06,0.09, 0.11,0.13,0.14,0.17,0.19,0.22,0.18,0.24,0.21,0.19, 0.23,0.20,0.18,0.21,0.16,0.19,0.17,0.22,0.10,-0.08, -0.12,-0.06,-0.04]
G19b = [0.03,0.02,0.03,0.03,0.03,0.04,0.04,0.05,0.07,0.09, 0.10,0.11,0.13,0.14,0.16,0.15,0.14,0.15,0.14,0.13, 0.14,0.13,0.16,0.12,0.13,0.11,0.12,0.08,0.03,-0.04, -0.06,-0.02,0.00]
B19b = [0.03,0.02,0.03,0.03,0.03,0.03,0.03,0.03,0.04,0.02, 0.02,-0.02,-0.06,-0.11,-0.17,-0.18,-0.24,-0.30,-0.28,-0.38, -0.44,-0.35,-0.48,-0.52,-0.50,-0.58,-0.45,-0.52,-0.40,-0.36, -0.42,-0.35,-0.30]
R20b = [-0.01,0.00,0.00,0.01,0.01,0.02,0.02,0.04,0.06,0.09, 0.11,0.12,0.14,0.18,0.22,0.24,0.26,0.21,0.23,0.19, 0.22,0.19,0.23,0.20,0.17,0.19,0.13,0.08,0.03,-0.03, -0.08,-0.04,-0.01]
G20b = [0.03,0.02,0.03,0.03,0.03,0.04,0.04,0.05,0.07,0.09, 0.11,0.12,0.14,0.16,0.17,0.16,0.18,0.14,0.15,0.17, 0.12,0.13,0.10,0.12,0.11,0.13,0.09,0.07,0.04,0.01, -0.01,-0.01,0.01]
B20b = [0.03,0.02,0.03,0.03,0.03,0.03,0.03,0.04,0.03,0.03, 0.00,-0.03,-0.10,-0.12,-0.20,-0.28,-0.27,-0.35,-0.38,-0.42, -0.55,-0.48,-0.60,-0.52,-0.62,-0.55,-0.70,-0.75,-0.68,-0.62, -0.45,-0.38,-0.30]
R21b = [-0.02,-0.03,-0.01,0.00,0.01,0.01,0.02,0.03,0.06,0.09, 0.11,0.14,0.16,0.19,0.21,0.23,0.20,0.24,0.22,0.18, 0.23,0.20,0.17,0.12,0.16,0.14,0.18,0.13,0.06,-0.10, -0.14,-0.08,-0.06]
G21b = [0.03,0.04,0.03,0.04,0.04,0.04,0.04,0.06,0.07,0.09, 0.11,0.14,0.16,0.20,0.21,0.19,0.17,0.18,0.14,0.16, 0.10,0.07,0.12,0.08,0.09,0.11,0.13,0.12,0.07,0.03, -0.01,0.00,0.01]
B21b = [0.03,0.02,0.03,0.03,0.03,0.03,0.04,0.03,0.05,0.04, 0.00,-0.03,-0.08,-0.14,-0.22,-0.27,-0.40,-0.45,-0.50,-0.55, -0.58,-0.62,-0.70,-0.75,-0.78,-0.82,-0.75,-0.68,-0.80,-0.62, -0.55,-0.62,-0.45]
R22b = [-0.01,0.00,0.00,0.01,0.02,0.02,0.02,0.04,0.07,0.11, 0.13,0.18,0.22,0.21,0.24,0.20,0.22,0.17,0.24,0.21, 0.26,0.22,0.25,0.18,0.14,0.11,0.08,0.03,-0.02,-0.08, -0.10,-0.07,-0.06]
G22b = [0.03,0.02,0.03,0.03,0.03,0.04,0.04,0.05,0.07,0.09, 0.11,0.14,0.16,0.19,0.21,0.23,0.19,0.17,0.14,0.17, 0.13,0.15,0.10,0.06,0.11,0.13,0.10,0.09,0.06,0.03, 0.01,0.00,0.00]
B22b = [0.03,0.02,0.03,0.03,0.03,0.03,0.03,0.04,0.03,0.02, -0.03,-0.07,-0.12,-0.20,-0.22,-0.35,-0.38,-0.42,-0.55,-0.62, -0.68,-0.72,-0.78,-0.85,-0.68,-0.78,-0.88,-0.72,-0.65,-0.70, -0.52,-0.48,-0.40]
R23b = [-0.01,0.00,0.00,0.01,0.02,0.02,0.02,0.04,0.07,0.09, 0.11,0.13,0.14,0.17,0.24,0.21,0.26,0.22,0.19,0.24, 0.21,0.18,0.23,0.19,0.17,0.21,0.16,0.12,0.07,0.01, -0.07,-0.09,-0.06]
G23b = [0.03,0.04,0.03,0.04,0.04,0.04,0.04,0.05,0.10,0.09, 0.11,0.13,0.15,0.12,0.14,0.15,0.13,0.16,0.14,0.17, 0.12,0.10,0.14,0.11,0.13,0.11,0.09,0.09,0.06,0.04, 0.02,0.02,0.02]
B23b = [0.03,0.02,0.03,0.03,0.03,0.03,0.04,0.03,0.06,0.04, 0.01,-0.02,-0.07,-0.12,-0.20,-0.28,-0.30,-0.40,-0.48,-0.52, -0.58,-0.62,-0.68,-0.72,-0.80,-0.78,-0.85,-0.82,-0.88,-0.62, -0.50,-0.45,-0.40]

RED = [R00, R01, R02, R03, R04, R05, R06, R07, R08, R09, R10, R11,
       R12, R13, R14, R15, R16, R17, R18, R19, R20, R21, R22, R23]
GREEN = [G00, G01, G02, G03, G04, G05, G06, G07, G08, G09, G10, G11,
         G12, G13, G14, G15, G16, G17, G18, G19, G20, G21, G22, G23]
BLUE = [B00, B01, B02, B03, B04, B05, B06, B07, B08, B09, B10, B11,
        B12, B13, B14, B15, B16, B17, B18, B19, B20, B21, B22, B23]
RED_B = [R00b, R01b, R02b, R03b, R04b, R05b, R06b, R07b, R08b, R09b, R10b, R11b,
         R12b, R13b, R14b, R15b, R16b, R17b, R18b, R19b, R20b, R21b, R22b, R23b]
GREEN_B = [G00b, G01b, G02b, G03b, G04b, G05b, G06b, G07b, G08b, G09b, G10b, G11b,
           G12b, G13b, G14b, G15b, G16b, G17b, G18b, G19b, G20b, G21b, G22b, G23b]
BLUE_B = [B00b, B01b, B02b, B03b, B04b, B05b, B06b, B07b, B08b, B09b, B10b, B11b,
          B12b, B13b, B14b, B15b, B16b, B17b, B18b, B19b, B20b, B21b, B22b, B23b]

for arr in RED + GREEN + BLUE:
    assert len(arr) == len(ANGLES), len(arr)
for arr in RED_B + GREEN_B + BLUE_B:
    assert len(arr) == len(ANGLES_B), len(arr)

# ---- style ----
W, H = 193.5, 137.9
FONT = "Liberation Sans"
DARK = "#262626"
FRAME = "#111111"
GRIDC = "#dcdcdc"
C_RED = "#f00000"
C_GREEN = "#1a961a"
C_BLUE = "#0000ff"
X_PATH = "M-1,-1L1,1M-1,1L1,-1"
STAR_PATH = "M-1,0L1,0M0,-1L0,1M-0.72,-0.72L0.72,0.72M-0.72,0.72L0.72,-0.72"

XS = alt.Scale(domain=[0, 180], nice=False, zero=False)
YS = alt.Scale(domain=[-1, 0.6], nice=False, zero=False)


def x_axis(bottom):
    if bottom:
        return alt.Axis(values=X_TICKS, grid=True, gridColor=GRIDC, ticks=False, domain=False,
                        labelFont=FONT, labelFontSize=11, labelColor=DARK, labelPadding=7,
                        labelFlush=False, title="Scattering angle (°)", titleFont=FONT,
                        titleFontSize=12, titleFontWeight="normal", titleColor=DARK,
                        titlePadding=5)
    return alt.Axis(values=X_TICKS, grid=True, gridColor=GRIDC, ticks=False, domain=False,
                    labels=False, title=None)


def y_axis(left, bottom):
    if left:
        # the "-1" label of the upper rows is nudged up a little so that it
        # does not collide with the "0.5" label of the row beneath
        flush = dict(labelFlush=False) if bottom else dict(labelFlush=1, labelFlushOffset=-3)
        return alt.Axis(values=Y_TICKS, grid=True, gridColor=GRIDC, ticks=False, domain=False,
                        labelFont=FONT, labelFontSize=11, labelColor=DARK, labelPadding=4,
                        labelExpr="'' + datum.value",
                        title="-F12/F11", titleFont=FONT, titleFontSize=12,
                        titleFontWeight="normal", titleColor=DARK, titlePadding=5, **flush)
    return alt.Axis(values=Y_TICKS, grid=True, gridColor=GRIDC, ticks=False, domain=False,
                    labels=False, title=None)


def series_layer(values, values_b, mark, bottom, left):
    df = pd.concat([
        pd.DataFrame({"angle": ANGLES, "val": values}),
        pd.DataFrame({"angle": ANGLES_B, "val": values_b}),
    ], ignore_index=True)
    return alt.Chart(df).mark_point(**mark).encode(
        x=alt.X("angle:Q", scale=XS, axis=x_axis(bottom)),
        y=alt.Y("val:Q", scale=YS, axis=y_axis(left, bottom)),
    )


RED_MARK = dict(shape="circle", filled=True, size=14, color=C_RED, opacity=1, clip=True)
GREEN_MARK = dict(shape=X_PATH, filled=False, size=24, color=C_GREEN, strokeWidth=1,
                  opacity=1, clip=True)
BLUE_MARK = dict(shape=STAR_PATH, filled=False, size=46, color=C_BLUE, strokeWidth=1.3,
                 opacity=1, clip=True)


def legend_layers():
    box = alt.Chart(pd.DataFrame({"a": [0]})).mark_rect(
        fill="white", stroke=DARK, strokeWidth=1
    ).encode(x=alt.value(116), x2=alt.value(187), y=alt.value(81), y2=alt.value(126))
    layers = [box]
    marks = [RED_MARK, GREEN_MARK, BLUE_MARK]
    ys = [90.5, 104.5, 118.5]
    for lab, mk, yy in zip(LEGEND_LABELS, marks, ys):
        d = pd.DataFrame({"lab": [lab]})
        m = {k: v for k, v in mk.items() if k != "clip"}
        layers.append(alt.Chart(d).mark_point(**m).encode(x=alt.value(134), y=alt.value(yy)))
        layers.append(alt.Chart(d).mark_text(
            font=FONT, fontSize=11, color="black", align="left", baseline="middle"
        ).encode(x=alt.value(149), y=alt.value(yy), text="lab:N"))
    return layers


def panel(k):
    row, col = divmod(k, 6)
    bottom = row == 3
    left = col == 0
    layers = [
        series_layer(RED[k], RED_B[k], RED_MARK, bottom, left),
        series_layer(GREEN[k], GREEN_B[k], GREEN_MARK, bottom, left),
        series_layer(BLUE[k], BLUE_B[k], BLUE_MARK, bottom, left),
    ]
    title = alt.Chart(pd.DataFrame({"t": [TITLES[k]]})).mark_text(
        font=FONT, fontSize=12, fontWeight="bold", color="black",
        align="center", baseline="middle"
    ).encode(x=alt.value(W / 2), y=alt.value(7), text="t:N")
    layers.append(title)
    if k == 0:
        layers.extend(legend_layers())
    return alt.layer(*layers).properties(width=W, height=H)


chart = alt.concat(*[panel(k) for k in range(24)], columns=6, spacing=0,
                   bounds="flush").properties(
    padding={"left": 3, "top": 0, "right": 0, "bottom": 0},
    background="white",
).configure_view(stroke=FRAME, strokeWidth=1.4)

chart.save("out.html", embed_options={"renderer": "svg", "actions": False})
